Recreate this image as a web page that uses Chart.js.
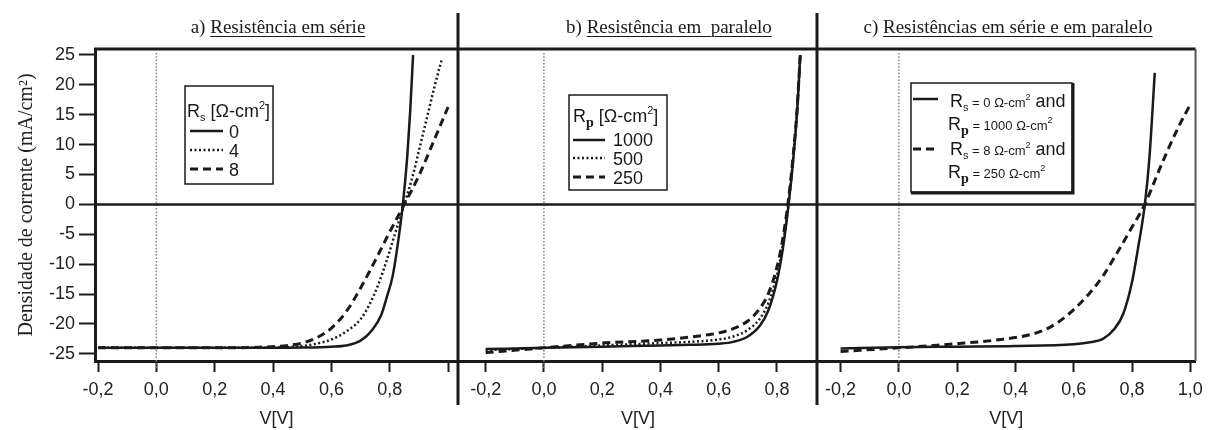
<!DOCTYPE html>
<html>
<head>
<meta charset="utf-8">
<script src="https://cdn.jsdelivr.net/npm/chart.js@4.4.1/dist/chart.umd.min.js"></script>
<style>
  html, body { margin: 0; padding: 0; background: #fff; }
  #wrap { position: relative; width: 1210px; height: 430px; overflow: hidden; }
  canvas { position: absolute; top: 0; }
  .ttl { position: absolute; top: 17px; font: 19px/19px "Liberation Serif", "Times New Roman", serif;
         color: #1a1a1a; white-space: pre; transform: translateX(-50%); }
  .ttl u { text-underline-offset: 3px; text-decoration-thickness: 1px; }
</style>
</head>
<body>
<div id="wrap">
  <canvas id="cA"></canvas>
  <canvas id="cB"></canvas>
  <canvas id="cC"></canvas>
  <div class="ttl" style="left:278px">a) <u>Resistência em série</u></div>
  <div class="ttl" style="left:669px">b) <u>Resistência em  paralelo</u></div>
  <div class="ttl" style="left:1008px">c) <u>Resistências em série e em paralelo</u></div>
</div>
<script>
//! Data (V in volts, J in mA/cm2)

const yTicks = [-25, -20, -15, -10, -5, 0, 5, 10, 15, 20, 25];

// a) series resistance
const aTicks = [-0.2, 0, 0.2, 0.4, 0.6, 0.8, 1.0];
const aLabels = ["-0,2", "0,0", "0,2", "0,4", "0,6", "0,8", ""];
const aRs0V = [-0.2, 0.0, 0.2, 0.4, 0.5, 0.6, 0.65, 0.7, 0.74, 0.77, 0.79, 0.81, 0.83, 0.845, 0.86, 0.87, 0.88];
const aRs0J = [-24.0, -24.0, -24.0, -24.0, -23.95, -23.8, -23.6, -22.8, -21.0, -18.6, -15.5, -12.0, -5.8, 0.0, 8.0, 15.5, 25.0];
const aRs4V = [-0.2, 0.2, 0.4, 0.5, 0.55, 0.6, 0.65, 0.7, 0.73, 0.76, 0.79, 0.82, 0.85, 0.88, 0.905, 0.93, 0.955, 0.978];
const aRs4J = [-24.0, -24.0, -23.95, -23.7, -23.3, -22.6, -21.3, -19.2, -16.8, -13.5, -9.3, -4.6, 0.0, 5.0, 10.0, 15.0, 20.0, 24.2];
const aRs8V = [-0.2, 0.2, 0.35, 0.45, 0.5, 0.55, 0.6, 0.65, 0.7, 0.75, 0.8, 0.85, 0.9, 0.95, 1.0];
const aRs8J = [-24.0, -24.0, -23.9, -23.6, -23.2, -22.3, -20.7, -18.0, -14.0, -9.4, -4.6, 0.0, 4.8, 10.5, 16.3];

// b) parallel resistance
const bTicks = [-0.2, 0, 0.2, 0.4, 0.6, 0.8];
const bLabels = ["-0,2", "0,0", "0,2", "0,4", "0,6", "0,8"];
const bV = [-0.2, 0.0, 0.2, 0.4, 0.5, 0.6, 0.65, 0.7, 0.74, 0.77, 0.8, 0.82, 0.84, 0.855, 0.87, 0.88];
const bRp1000J = [-24.2, -24.0, -23.8, -23.6, -23.5, -23.3, -23.0, -22.1, -20.4, -17.8, -12.8, -7.5, 0.0, 7.0, 16.0, 25.0];
const bRp500J = [-24.4, -24.0, -23.6, -23.2, -23.0, -22.6, -22.1, -21.0, -19.2, -16.6, -11.8, -6.8, 0.3, 7.3, 16.2, 25.0];
const bRp250J = [-24.8, -24.0, -23.2, -22.7, -22.2, -21.5, -20.8, -19.5, -17.5, -15.0, -10.5, -5.8, 1.0, 7.8, 16.5, 25.0];

// c) series and parallel
const cTicks = [-0.2, 0, 0.2, 0.4, 0.6, 0.8, 1.0];
const cLabels = ["-0,2", "0,0", "0,2", "0,4", "0,6", "0,8", "1,0"];
const cIdealV = [-0.2, 0.0, 0.2, 0.4, 0.6, 0.65, 0.7, 0.74, 0.77, 0.8, 0.82, 0.844, 0.86, 0.878];
const cIdealJ = [-24.1, -23.9, -23.8, -23.7, -23.4, -23.1, -22.5, -20.8, -18.3, -13.0, -7.5, 0.0, 8.0, 22.0];
const cLossyV = [-0.2, 0.0, 0.2, 0.35, 0.45, 0.5, 0.55, 0.6, 0.65, 0.7, 0.75, 0.8, 0.844, 0.885, 0.92, 0.96, 1.003];
const cLossyJ = [-24.6, -24.0, -23.3, -22.6, -21.8, -21.0, -19.6, -17.6, -15.1, -12.0, -8.0, -3.8, 0.0, 4.8, 8.8, 13.0, 17.0];

//! Styles

const SANS = '"Liberation Sans", Arial, sans-serif';
const SERIF = '"Liberation Serif", "Times New Roman", serif';
const INK = "#1a1a1a";
const SOLID = { w: 2.5, dash: [] };
const DOTTED = { w: 2.5, dash: [2, 2.5] };
const DASHED = { w: 3, dash: [8, 5] };

const f = (size, fam = SANS, weight = "") => `${weight} ${size}px ${fam}`.trim();

//! Plugins

const frame = {
  id: "frame",
  beforeDatasetsDraw(chart) {
    const { ctx, chartArea: a, scales: { x, y } } = chart;
    ctx.save();
    // dotted line at V = 0
    const x0 = x.getPixelForValue(0);
    ctx.strokeStyle = "#808080";
    ctx.lineWidth = 1.5;
    ctx.setLineDash([1.5, 1.8]);
    ctx.beginPath();
    ctx.moveTo(x0, a.top + 4);
    ctx.lineTo(x0, a.bottom + 8);
    ctx.stroke();
    ctx.setLineDash([]);
    // J = 0 line
    const y0 = y.getPixelForValue(0);
    ctx.strokeStyle = INK;
    ctx.lineWidth = 2.5;
    ctx.beginPath();
    ctx.moveTo(a.left, y0);
    ctx.lineTo(a.right, y0);
    ctx.stroke();
    ctx.restore();
  },
  afterDraw(chart, args, o) {
    const { ctx, chartArea: a } = chart;
    ctx.save();
    ctx.strokeStyle = INK;
    ctx.lineWidth = 3;
    ctx.beginPath();
    ctx.moveTo(a.left - 1, a.top);
    ctx.lineTo(a.right, a.top);
    ctx.stroke();
    if (o.divider) {
      ctx.beginPath();
      ctx.moveTo(a.left, 13);
      ctx.lineTo(a.left, 405);
      ctx.stroke();
    }
    if (o.rightBorder) {
      ctx.strokeStyle = "#555";
      ctx.lineWidth = 2;
      ctx.beginPath();
      ctx.moveTo(a.right, a.top);
      ctx.lineTo(a.right, a.bottom);
      ctx.stroke();
    }
    ctx.restore();
  },
};

const boxLegend = {
  id: "boxLegend",
  afterDatasetsDraw(chart, args, o) {
    if (!o.box) return;
    const ctx = chart.ctx;
    const dx = -o.left;
    const [bx, by, bw, bh] = o.box;
    ctx.save();
    ctx.translate(dx, 0);
    ctx.fillStyle = "#fff";
    ctx.fillRect(bx, by, bw, bh);
    ctx.strokeStyle = INK;
    ctx.lineWidth = 1.5;
    ctx.strokeRect(bx, by, bw, bh);
    if (o.shadow) {
      ctx.lineWidth = 3;
      ctx.beginPath();
      ctx.moveTo(bx + bw + 1, by);
      ctx.lineTo(bx + bw + 1, by + bh + 1);
      ctx.lineTo(bx, by + bh + 1);
      ctx.stroke();
    }
    o.rows.forEach((r) => {
      if (r.ds !== undefined) {
        const ds = chart.data.datasets[r.ds];
        ctx.strokeStyle = ds.borderColor;
        ctx.lineWidth = ds.borderWidth;
        ctx.setLineDash(ds.borderDash);
        ctx.beginPath();
        ctx.moveTo(r.line[0], r.line[2]);
        ctx.lineTo(r.line[1], r.line[2]);
        ctx.stroke();
        ctx.setLineDash([]);
      }
      let x = r.x;
      ctx.fillStyle = INK;
      r.parts.forEach(([t, font, dy]) => {
        ctx.font = font;
        ctx.fillText(t, x, r.y + dy);
        x += ctx.measureText(t).width;
      });
    });
    ctx.restore();
  },
};

//! Panels

function pts(v, j) {
  return v.map((x, i) => ({ x, y: j[i] }));
}

function panel(cfg) {
  const cv = document.getElementById(cfg.id);
  cv.width = cfg.width;
  cv.height = 430;
  cv.style.left = cfg.left + "px";
  cfg.legend.left = cfg.left;

  return new Chart(cv, {
    type: "scatter",
    data: {
      datasets: cfg.series.map((s) => ({
        data: pts(s.v, s.j),
        showLine: true,
        borderColor: INK,
        borderWidth: s.style.w,
        borderDash: s.style.dash,
        pointRadius: 0,
        cubicInterpolationMode: "monotone",
        fill: false,
      })),
    },
    options: {
      responsive: false,
      animation: false,
      events: [],
      layout: { padding: { left: cfg.padL, right: cfg.padR, top: 49, bottom: 0 } },
      plugins: {
        legend: { display: false },
        tooltip: { enabled: false },
        frame: cfg.frame,
        boxLegend: cfg.legend,
      },
      scales: {
        x: {
          type: "linear",
          min: cfg.xMin,
          max: cfg.xMax,
          afterBuildTicks: (s) => { s.ticks = cfg.xTicks.map((v) => ({ value: v })); },
          afterFit: (s) => { s.height = 69; },
          border: { display: true, width: 3, color: INK },
          grid: { drawOnChartArea: false, tickLength: 11, tickWidth: 2, tickColor: INK },
          ticks: {
            autoSkip: false,
            maxRotation: 0,
            padding: 7,
            color: "#222",
            font: { family: SANS, size: 18 },
            callback: (v, i) => cfg.xLabels[i],
          },
          title: {
            display: true,
            text: "V[V]",
            color: "#222",
            font: { family: SANS, size: 18, lineHeight: 1.2 },
            padding: 0,
          },
        },
        y: {
          display: cfg.showY,
          min: -26.2,
          max: 26,
          afterBuildTicks: (s) => { s.ticks = yTicks.map((v) => ({ value: v })); },
          afterFit: (s) => { s.width = cfg.showY ? 95 : 0; },
          border: { display: true, width: 3, color: INK },
          grid: { drawOnChartArea: false, tickLength: 16, tickWidth: 2, tickColor: INK },
          ticks: { color: "#222", padding: 4, font: { family: SANS, size: 18 } },
          title: {
            display: true,
            text: "Densidade de corrente (mA/cm²)",
            color: "#222",
            font: { family: SERIF, size: 20, lineHeight: 1.2 },
            padding: { top: 15, bottom: 0 },
          },
        },
      },
    },
    plugins: [frame, boxLegend],
  });
}

const big = f(18);
const sub = f(11);
const subP = f(14, SERIF, "bold");
const sup = f(11);
const small = f(13);
const sup2 = f(9);

panel({
  id: "cA", left: 0, width: 460, padL: 0, padR: 2, showY: true,
  xMin: -0.2103, xMax: 1.034, xTicks: aTicks, xLabels: aLabels,
  frame: { divider: false, rightBorder: false },
  series: [
    { v: aRs0V, j: aRs0J, style: SOLID },
    { v: aRs4V, j: aRs4J, style: DOTTED },
    { v: aRs8V, j: aRs8J, style: DASHED },
  ],
  legend: {
    box: [185, 86, 88, 98],
    rows: [
      { x: 187, y: 117, parts: [["R", big, 0], ["s", sub, 4], [" [Ω-cm", big, 0], ["2", sup, -8], ["]", big, 0]] },
      { ds: 0, line: [190, 223, 131], x: 229, y: 137.5, parts: [["0", big, 0]] },
      { ds: 1, line: [190, 223, 150], x: 229, y: 156.5, parts: [["4", big, 0]] },
      { ds: 2, line: [190, 223, 169], x: 229, y: 175.5, parts: [["8", big, 0]] },
    ],
  },
});

panel({
  id: "cB", left: 450, width: 370, padL: 8, padR: 2, showY: false,
  xMin: -0.295, xMax: 0.941, xTicks: bTicks, xLabels: bLabels,
  frame: { divider: true, rightBorder: false },
  series: [
    { v: bV, j: bRp1000J, style: SOLID },
    { v: bV, j: bRp500J, style: DOTTED },
    { v: bV, j: bRp250J, style: DASHED },
  ],
  legend: {
    box: [569, 95, 98, 95],
    rows: [
      { x: 573, y: 122, parts: [["R", big, 0], ["p", subP, 5], [" [Ω-cm", big, 0], ["2", sup, -8], ["]", big, 0]] },
      { ds: 0, line: [573, 605, 140], x: 613, y: 146, parts: [["1000", big, 0]] },
      { ds: 1, line: [573, 605, 158], x: 613, y: 164.5, parts: [["500", big, 0]] },
      { ds: 2, line: [573, 605, 177], x: 613, y: 183.5, parts: [["250", big, 0]] },
    ],
  },
});

panel({
  id: "cC", left: 809, width: 401, padL: 8, padR: 13, showY: false,
  xMin: -0.281, xMax: 1.018, xTicks: cTicks, xLabels: cLabels,
  frame: { divider: true, rightBorder: true },
  series: [
    { v: cIdealV, j: cIdealJ, style: SOLID },
    { v: cLossyV, j: cLossyJ, style: DASHED },
  ],
  legend: {
    box: [911, 83, 161, 109], shadow: true,
    rows: [
      { ds: 0, line: [913, 938, 99], x: 950, y: 107,
        parts: [["R", big, 0], ["s", sub, 4], [" = 0 Ω-cm", small, 0], ["2", sup2, -7], [" and", big, 0]] },
      { x: 948, y: 130, parts: [["R", big, 0], ["p", subP, 5], [" = 1000 Ω-cm", small, 0], ["2", sup2, -7]] },
      { ds: 1, line: [913, 935, 149], x: 950, y: 155,
        parts: [["R", big, 0], ["s", sub, 4], [" = 8 Ω-cm", small, 0], ["2", sup2, -7], [" and", big, 0]] },
      { x: 948, y: 178, parts: [["R", big, 0], ["p", subP, 5], [" = 250 Ω-cm", small, 0], ["2", sup2, -7]] },
    ],
  },
});
</script>
</body>
</html>
